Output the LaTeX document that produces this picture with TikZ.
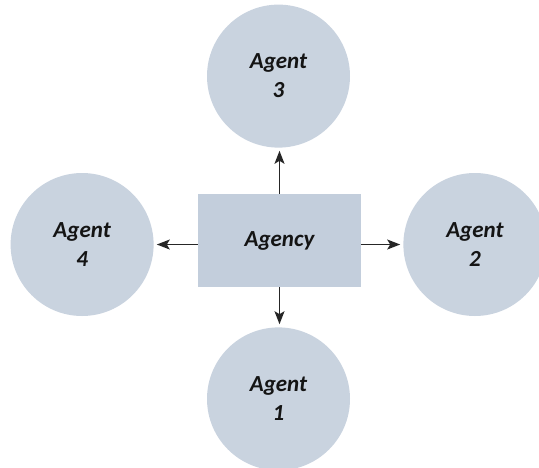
\documentclass[tikz,border=0pt]{standalone}
\usepackage{fontspec}
\setmainfont{Carlito}
\usetikzlibrary{arrows.meta,positioning}

\definecolor{agentfill}{HTML}{C9D3DF}
\definecolor{hubfill}{HTML}{C3CEDC}
\definecolor{inkdark}{HTML}{141414}

\begin{document}
\begin{tikzpicture}[
    x=1pt, y=-1pt,
    font=\fontsize{23}{29}\selectfont\bfseries\itshape,
    >={Stealth[length=13pt, width=10pt, inset=3pt]},
    agent/.style={circle, fill=agentfill, minimum size=143pt, inner sep=0pt,
                  align=center, text=inkdark},
    hub/.style={rectangle, fill=hubfill, minimum width=163pt, minimum height=93pt,
                inner sep=0pt, text=inkdark},
    link/.style={->, line width=1.4pt, black!85, shorten >=3pt},
]
\useasboundingbox (0,0) rectangle (539,467);

% --- centre box ---
\node[hub] (agency) at (279.5,240.5) {Agency};

% --- the four agents round it ---
\node[agent, above=46pt of agency, xshift=-1pt] (agent3) {Agent\\3};
\node[agent, right=42pt of agency, yshift=-4pt] (agent2) {Agent\\2};
\node[agent, below=40pt of agency, xshift=-1pt] (agent1) {Agent\\1};
\node[agent, left=44pt of agency, yshift=-4pt]  (agent4) {Agent\\4};

% arrows out of the agency
\draw[link] (agency.north) -- (agency.north |- agent3.south);
\draw[link] (agency.east |- agent2.west) -- (agent2.west);
\draw[link] (agency.south) -- (agency.south |- agent1.north);
\draw[link] (agency.west |- agent4.east) -- (agent4.east);

\end{tikzpicture}
\end{document}
